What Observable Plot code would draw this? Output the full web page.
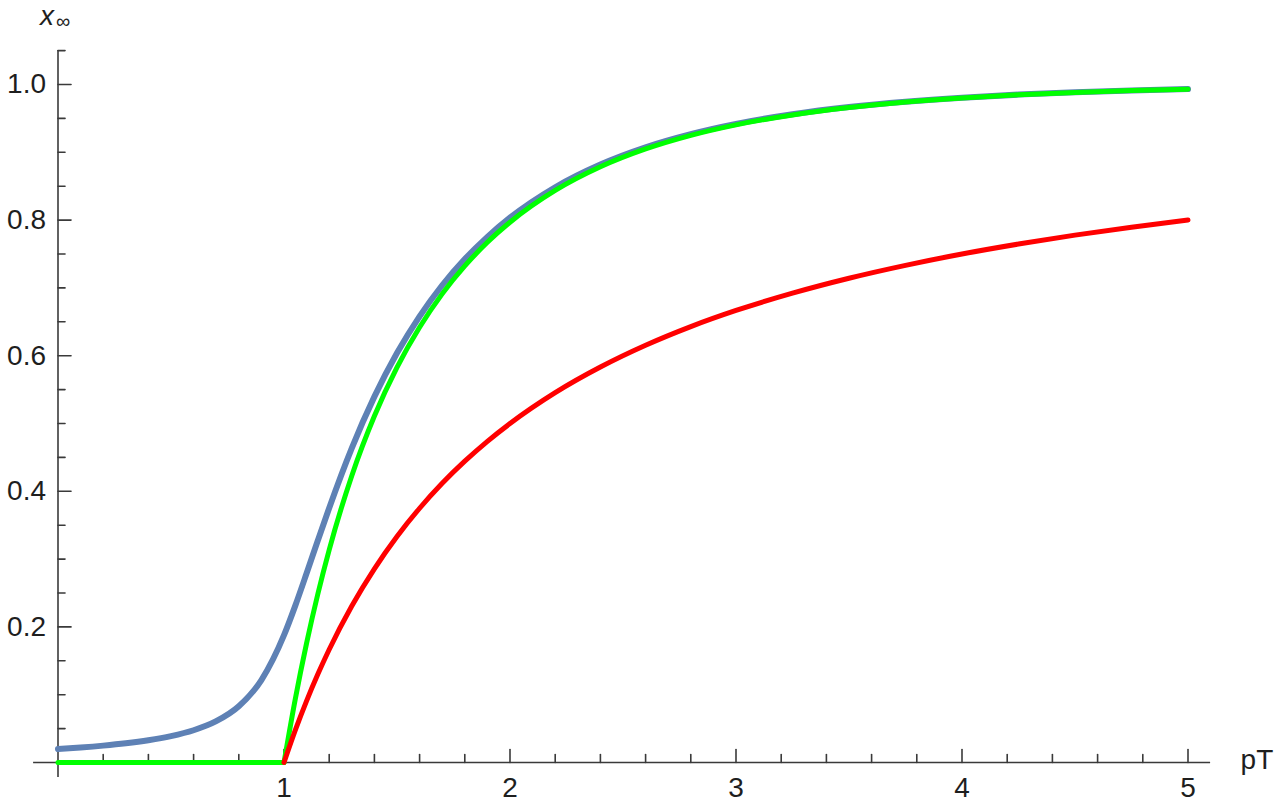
<!DOCTYPE html>
<html>
<head>
<meta charset="utf-8">
<script src="https://cdn.jsdelivr.net/npm/d3@7"></script>
<script src="https://cdn.jsdelivr.net/npm/@observablehq/plot@0.6"></script>
<style>
  html, body { margin: 0; padding: 0; background: #fff; overflow: hidden; }
  #chart { width: 1280px; height: 803px; }
</style>
</head>
<body>
<div id="chart"></div>
<script>
// ---- data ----
const pT = [0, 0.1, 0.2, 0.3, 0.4, 0.5, 0.6, 0.7, 0.8, 0.9,
  1.0, 1.05, 1.1, 1.15, 1.2,
  1.3, 1.4, 1.5, 1.6, 1.7, 1.8, 1.9, 2.0,
  2.2, 2.4, 2.6, 2.8, 3.0,
  3.25, 3.5, 3.75, 4.0, 4.25, 4.5, 4.75, 5.0];
const blueSeries = [0.0200, 0.0222, 0.0249, 0.0283, 0.0328, 0.0389, 0.0476, 0.0609, 0.0829, 0.1216,
  0.1878, 0.2314, 0.2790, 0.3278, 0.3755,
  0.4638, 0.5396, 0.6039, 0.6581, 0.7039, 0.7425, 0.7753, 0.8036,
  0.8485, 0.8820, 0.9074, 0.9268, 0.9419,
  0.9561, 0.9667, 0.9746, 0.9806, 0.9851, 0.9885, 0.9912, 0.9932];
const greenSeries = [0, 0, 0, 0, 0, 0, 0, 0, 0, 0,
  0, 0.0937, 0.1761, 0.2489, 0.3137,
  0.4230, 0.5110, 0.5828, 0.6420, 0.6912, 0.7324, 0.7673, 0.7968,
  0.8437, 0.8786, 0.9049, 0.9250, 0.9405,
  0.9551, 0.9660, 0.9741, 0.9802, 0.9848, 0.9883, 0.9910, 0.9930];
const redSeries = [null, null, null, null, null, null, null, null, null, null,
  0, 0.0476, 0.0909, 0.1304, 0.1667,
  0.2308, 0.2857, 0.3333, 0.3750, 0.4118, 0.4444, 0.4737, 0.5000,
  0.5455, 0.5833, 0.6154, 0.6429, 0.6667,
  0.6923, 0.7143, 0.7333, 0.7500, 0.7647, 0.7778, 0.7895, 0.8000];

const xMajorTicks = [1, 2, 3, 4, 5];
const xMinorTicks = [0.2, 0.4, 0.6, 0.8, 1.2, 1.4, 1.6, 1.8, 2.2, 2.4, 2.6, 2.8,
  3.2, 3.4, 3.6, 3.8, 4.2, 4.4, 4.6, 4.8];
const yMajorTicks = [0.2, 0.4, 0.6, 0.8, 1.0];
const yMinorTicks = [0.05, 0.1, 0.15, 0.25, 0.3, 0.35, 0.45, 0.5, 0.55, 0.65, 0.7, 0.75,
  0.85, 0.9, 0.95, 1.05];
const xAxisExtent = [-0.108, 5.1];
const yAxisExtent = [-0.022, 1.05];
const xLabel = "pT";
const yLabelMain = "x";
const yLabelSub = "∞";

// ---- styles ----
const FONT = "'Liberation Sans', Arial, sans-serif";
const AXIS = "#3a3a3a";
const TEXT = "#1e1e1e";
const BLUE = "#5e81b5";
const GREEN = "#00ff00";
const RED = "#ff0000";

// ---- build tables ----
const blueRows = pT.map((p, i) => ({pT: p, v: blueSeries[i], seg: "a"}));
function splitRows(series) {
  const rows = [];
  pT.forEach((p, i) => {
    const v = series[i];
    if (v == null) return;
    if (p <= 1) rows.push({pT: p, v, seg: "low"});
    if (p >= 1) rows.push({pT: p, v, seg: "high"});
  });
  return rows;
}
const greenRows = splitRows(greenSeries);
const redRows = splitRows(redSeries).filter(d => d.seg === "high");

const tickShape = {
  draw(context, l) { context.moveTo(0, 0); context.lineTo(0, -l); }
};

const chart = Plot.plot({
  width: 1280,
  height: 803,
  marginLeft: 57.5,
  marginRight: 92.5,
  marginTop: 84,
  marginBottom: 41,
  x: {domain: [0, 5], axis: null},
  y: {domain: [0, 1], axis: null},
  style: {fontFamily: FONT, background: "#fff", overflow: "visible"},
  marks: [
    // axis lines
    Plot.ruleY([0], {x1: () => xAxisExtent[0], x2: () => xAxisExtent[1], stroke: AXIS, strokeWidth: 1.6}),
    Plot.ruleX([0], {y1: () => yAxisExtent[0], y2: () => yAxisExtent[1], stroke: AXIS, strokeWidth: 1.6}),
    // x ticks
    Plot.vector(xMajorTicks, {x: d => d, y: () => 0, length: 13, rotate: 0, anchor: "start", shape: tickShape, stroke: AXIS, strokeWidth: 1.6}),
    Plot.vector(xMinorTicks, {x: d => d, y: () => 0, length: 8, rotate: 0, anchor: "start", shape: tickShape, stroke: AXIS, strokeWidth: 1.6}),
    // y ticks
    Plot.vector(yMajorTicks, {x: () => 0, y: d => d, length: 13, rotate: 90, anchor: "start", shape: tickShape, stroke: AXIS, strokeWidth: 1.6}),
    Plot.vector(yMinorTicks, {x: () => 0, y: d => d, length: 7, rotate: 90, anchor: "start", shape: tickShape, stroke: AXIS, strokeWidth: 1.6}),
    // tick labels
    Plot.text(xMajorTicks, {x: d => d, y: () => 0, text: d => String(d), dy: 26, fontSize: 28, lineAnchor: "middle", fill: TEXT}),
    Plot.text(yMajorTicks, {x: () => 0, y: d => d, text: d => d.toFixed(1), dx: -12, textAnchor: "end", fontSize: 28, lineAnchor: "middle", fill: TEXT}),
    // axis labels
    Plot.text([xLabel], {x: () => xAxisExtent[1], y: () => 0, text: d => d, dx: 30, dy: -2, textAnchor: "start", fontSize: 28, lineAnchor: "middle", fill: TEXT}),
    Plot.text([yLabelMain], {x: () => 0, y: () => yAxisExtent[1], text: d => d, dx: -11, dy: -35, fontSize: 28, fontStyle: "italic", lineAnchor: "middle", fill: TEXT}),
    Plot.text([yLabelSub], {x: () => 0, y: () => yAxisExtent[1], text: d => d, dx: 5, dy: -29, fontSize: 20, lineAnchor: "middle", fill: TEXT}),
    // curves
    Plot.line(blueRows, {x: "pT", y: "v", z: "seg", curve: "monotone-x", stroke: BLUE, strokeWidth: 6}),
    Plot.line(greenRows, {x: "pT", y: "v", z: "seg", curve: "monotone-x", stroke: GREEN, strokeWidth: 5}),
    Plot.line(redRows, {x: "pT", y: "v", z: "seg", curve: "monotone-x", stroke: RED, strokeWidth: 5})
  ]
});
document.getElementById("chart").appendChild(chart);
</script>
</body>
</html>
